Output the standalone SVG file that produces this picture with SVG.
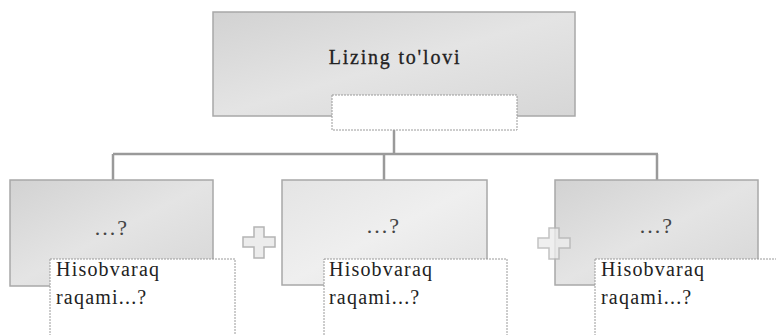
<svg xmlns="http://www.w3.org/2000/svg" width="776" height="335" viewBox="0 0 776 335">
<style>
.box{stroke:#a8a8a8;stroke-width:1.5}
.lbl{fill:#ffffff;stroke:#9a9a9a;stroke-width:1;stroke-dasharray:2 1}
.t{font-family:"Liberation Serif","Times New Roman",serif;fill:#222}
.h{font-size:20px;letter-spacing:1.2px}
.q{font-size:22px;letter-spacing:2px;fill:#444}
.conn{stroke:#9a9a9a;stroke-width:2.5;fill:none}
.plus{fill:#ececec;stroke:#b4b4b4;stroke-width:1.5}
</style>
<defs>
<linearGradient id="g1" x1="0" y1="0" x2="1" y2="1">
<stop offset="0" stop-color="#d2d2d2"/><stop offset="0.5" stop-color="#e4e4e4"/><stop offset="1" stop-color="#d6d6d6"/>
</linearGradient>
<linearGradient id="g2" x1="0" y1="0" x2="1" y2="1">
<stop offset="0" stop-color="#e4e4e4"/><stop offset="0.5" stop-color="#efefef"/><stop offset="1" stop-color="#e2e2e2"/>
</linearGradient>
</defs>
<rect width="776" height="335" fill="#ffffff"/>
<g id="connectors">
<path class="conn" d="M394 130 V154"/>
<path class="conn" d="M113 154 H658"/>
<path class="conn" d="M113 154 V180"/>
<path class="conn" d="M384 154 V180"/>
<path class="conn" d="M657 154 V180"/>
</g>
<g id="top">
<rect class="box" x="213" y="12" width="362" height="104" fill="url(#g1)"/>
<text class="t" x="395" y="64" font-size="20" letter-spacing="1.8" text-anchor="middle" stroke="#222" stroke-width="0.3">Lizing to'lovi</text>
<rect class="lbl" x="332" y="95" width="185" height="35"/>
</g>
<g id="left">
<rect class="box" x="10" y="180" width="203" height="106" fill="url(#g1)"/>
<text class="t q" x="112" y="235" text-anchor="middle">...?</text>
</g>
<g id="middle">
<rect class="box" x="282" y="180" width="205" height="105" fill="url(#g2)"/>
<text class="t q" x="384" y="233" text-anchor="middle">...?</text>
</g>
<g id="right">
<rect class="box" x="555" y="180" width="203" height="105" fill="url(#g1)"/>
<text class="t q" x="657" y="233" text-anchor="middle">...?</text>
</g>
<g id="plus1">
<path class="plus" d="M254 227 H264 V237 H275 V247 H264 V258 H254 V247 H243 V237 H254 Z"/>
</g>
<g id="plus2">
<path class="plus" d="M549 228 H559 V238 H570 V248 H559 V259 H549 V248 H538 V238 H549 Z" opacity="0.8"/>
</g>
<g id="label-left">
<rect class="lbl" x="50" y="259" width="185" height="80"/>
<text class="t h" x="56" y="276">Hisobvaraq</text>
<text class="t h" x="56" y="304">raqami...?</text>
</g>
<g id="label-middle">
<rect class="lbl" x="324" y="259" width="183" height="80"/>
<text class="t h" x="329" y="276">Hisobvaraq</text>
<text class="t h" x="329" y="304">raqami...?</text>
</g>
<g id="label-right">
<rect class="lbl" x="595" y="259" width="185" height="80"/>
<text class="t h" x="601" y="276">Hisobvaraq</text>
<text class="t h" x="601" y="304">raqami...?</text>
</g>
</svg>
